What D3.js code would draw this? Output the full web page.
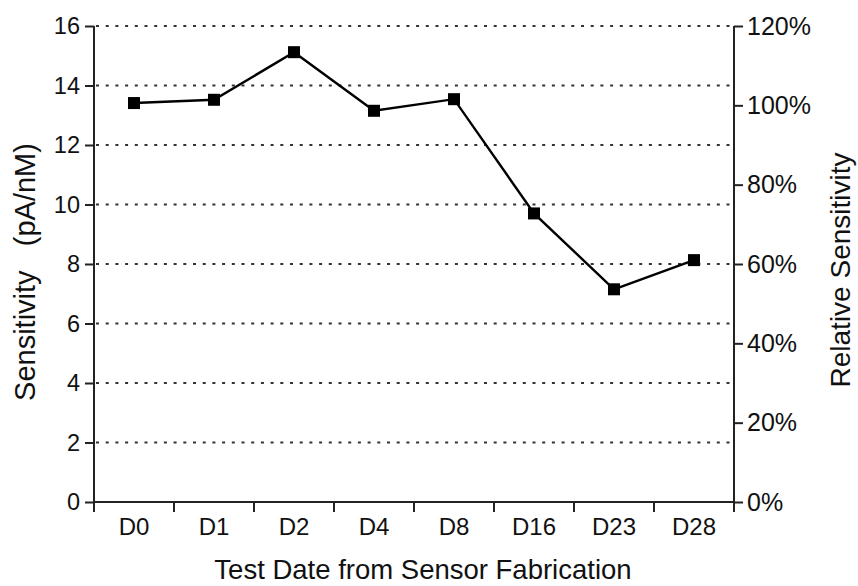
<!DOCTYPE html>
<html>
<head>
<meta charset="utf-8">
<script src="https://cdn.jsdelivr.net/npm/d3@7/dist/d3.min.js"></script>
<style>
  body { margin: 0; background: #fff; }
  svg { display: block; font-family: "Liberation Sans", Arial, Helvetica, sans-serif; }
  .axis path, .axis line { stroke: #222; stroke-width: 2; }
  .axis text { fill: #111; font-size: 23.5px; }
  .axis.right text { font-size: 25px; }
  .axis.bottom text { font-size: 24px; }
  .grid line { stroke: #333; stroke-width: 2; stroke-dasharray: 3 6.7; }
  .label { fill: #111; font-size: 28px; }
</style>
</head>
<body>
<script>
const days = ['D0', 'D1', 'D2', 'D4', 'D8', 'D16', 'D23', 'D28'];
const sensitivity = [13.41, 13.52, 15.12, 13.15, 13.54, 9.7, 7.15, 8.13];
const leftTicks = [0, 2, 4, 6, 8, 10, 12, 14, 16];
const rightTicks = [0, 0.2, 0.4, 0.6, 0.8, 1.0, 1.2];

const W = 858, H = 586;
const plot = {left: 94, right: 734, top: 26, bottom: 502};

const svg = d3.select('body').append('svg')
  .attr('width', W)
  .attr('height', H);

const x = d3.scaleBand().domain(days).range([plot.left, plot.right]).padding(0);
const y = d3.scaleLinear().domain([0, 16]).range([plot.bottom, plot.top]);
const yRight = d3.scaleLinear().domain([0, 1.2]).range([plot.bottom, plot.top]);

// dotted grid
svg.append('g')
  .attr('class', 'grid')
  .selectAll('line')
  .data(leftTicks.filter(d => d > 0))
  .join('line')
  .attr('x1', plot.left + 2)
  .attr('x2', plot.right - 2)
  .attr('y1', d => y(d))
  .attr('y2', d => y(d));

// left axis
svg.append('g')
  .attr('class', 'axis left')
  .attr('transform', `translate(${plot.left},0)`)
  .call(d3.axisLeft(y).tickValues(leftTicks).tickSize(9).tickPadding(5).tickSizeOuter(0))
  .call(g => g.select('.domain').attr('d', `M0,${plot.top}V${plot.bottom}`));

// right axis
svg.append('g')
  .attr('class', 'axis right')
  .attr('transform', `translate(${plot.right},0)`)
  .call(d3.axisRight(yRight).tickValues(rightTicks).tickFormat(d3.format('.0%')).tickSize(9).tickPadding(4).tickSizeOuter(0))
  .call(g => g.select('.domain').attr('d', `M0,${plot.top}V${plot.bottom}`));

// bottom axis: labels centred in bands, ticks at band edges
const xAxis = svg.append('g')
  .attr('class', 'axis bottom')
  .attr('transform', `translate(0,${plot.bottom})`)
  .call(d3.axisBottom(x).tickSize(0).tickPadding(16).tickSizeOuter(0));
xAxis.select('.domain').attr('d', `M${plot.left},0H${plot.right}`);
xAxis.selectAll('.edge')
  .data(days.map(d => x(d)).concat([x.range()[1]]))
  .join('line')
  .attr('class', 'edge')
  .attr('x1', d => d)
  .attr('x2', d => d)
  .attr('y1', 0)
  .attr('y2', 10);

// data line + markers
const line = d3.line()
  .x((d, i) => x(days[i]) + x.bandwidth() / 2)
  .y(d => y(d));

svg.append('path')
  .datum(sensitivity)
  .attr('fill', 'none')
  .attr('stroke', '#000')
  .attr('stroke-width', 2.4)
  .attr('d', line);

const ms = 12;
svg.append('g')
  .selectAll('rect')
  .data(sensitivity)
  .join('rect')
  .attr('x', (d, i) => x(days[i]) + x.bandwidth() / 2 - ms / 2)
  .attr('y', d => y(d) - ms / 2)
  .attr('width', ms)
  .attr('height', ms)
  .attr('fill', '#000');

// axis titles
svg.append('text')
  .attr('class', 'label')
  .attr('text-anchor', 'middle')
  .style('font-size', '27.5px')
  .attr('x', 423)
  .attr('y', 579)
  .text('Test Date from Sensor Fabrication');

svg.append('text')
  .attr('class', 'label')
  .attr('text-anchor', 'middle')
  .attr('transform', 'translate(35,272) rotate(-90)')
  .attr('xml:space', 'preserve')
  .style('white-space', 'pre')
  .style('font-size', '29px')
  .text('Sensitivity   (pA/nM)');

svg.append('text')
  .attr('class', 'label')
  .attr('text-anchor', 'middle')
  .attr('transform', 'translate(850,270) rotate(-90)')
  .text('Relative Sensitivity');
</script>
</body>
</html>
